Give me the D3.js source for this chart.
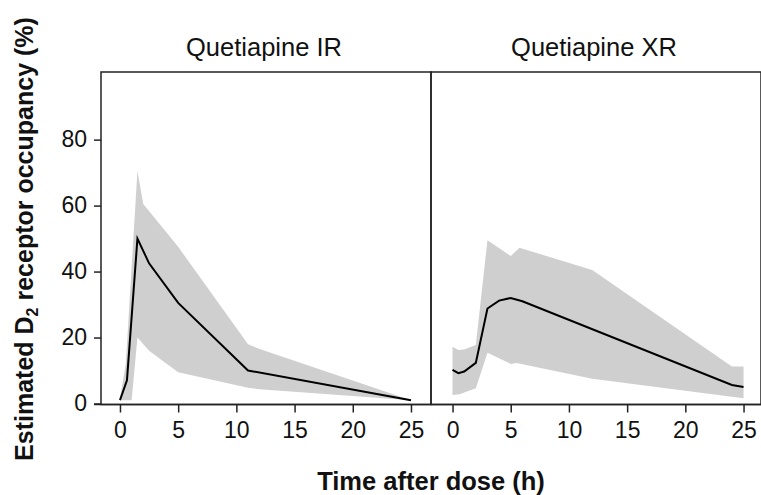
<!DOCTYPE html>
<html>
<head>
<meta charset="utf-8">
<script src="https://cdn.jsdelivr.net/npm/d3@7"></script>
<style>
  body { margin: 0; background: #fff; }
  svg { display: block; font-family: "Liberation Sans", Arial, sans-serif; }
</style>
</head>
<body>
<script>
// panels
var panelNames = ["Quetiapine IR", "Quetiapine XR"];
var xTicks = [0, 5, 10, 15, 20, 25];
var yTicks = [0, 20, 40, 60, 80];

// Quetiapine IR
var irMeanTime = [0, 0.6, 1.5, 2.5, 5, 11, 25];
var irMean     = [1, 7, 50, 42.5, 30.5, 10, 1];
var irUpperTime = [0, 0.5, 1.5, 2, 5, 11, 12, 25];
var irUpper     = [1.5, 12, 70.5, 60.5, 47.5, 18, 16.5, 1];
var irLowerTime = [0, 1, 1.5, 2.5, 5, 11, 12, 25];
var irLower     = [1, 1, 20, 16, 9.5, 4.8, 4.3, 1];

// Quetiapine XR
var xrMeanTime = [0, 0.5, 1, 2, 3, 4, 5, 6, 24, 25];
var xrMean     = [10.2, 9.2, 9.7, 12.3, 28.8, 31.2, 32, 31, 5.6, 5];
var xrUpperTime = [0, 0.5, 1, 2, 3, 5, 5.75, 12, 24, 25];
var xrUpper     = [17.2, 16.2, 16.4, 17.7, 49.5, 44.7, 47.2, 40.5, 11.2, 11.2];
var xrLowerTime = [0, 0.6, 2, 3, 5, 5.5, 12, 25];
var xrLower     = [2.6, 2.8, 4.6, 15.4, 12, 12.3, 7.5, 1.6];

var width = 761, height = 495;
var yTop = 72, yBottom = 404.5;
var panels = [
  {name: panelNames[0], x0: 101, x1: 431, dom: [-1.63, 26.72],
   mt: irMeanTime, m: irMean, ut: irUpperTime, u: irUpper, lt: irLowerTime, l: irLower},
  {name: panelNames[1], x0: 431, x1: 761, dom: [-1.85, 26.5],
   mt: xrMeanTime, m: xrMean, ut: xrUpperTime, u: xrUpper, lt: xrLowerTime, l: xrLower}
];

var svg = d3.select("body").append("svg")
  .attr("width", width)
  .attr("height", height);

var y = d3.scaleLinear().domain([0, 100.5]).range([403.5, yTop]);

panels.forEach(function(p, i) {
  var x = d3.scaleLinear().domain(p.dom).range([p.x0, p.x1]);

  var upperPts = p.ut.map(function(t, j) { return [t, p.u[j]]; });
  var lowerPts = p.lt.map(function(t, j) { return [t, p.l[j]]; }).reverse();
  var band = upperPts.concat(lowerPts);

  svg.append("path")
    .attr("d", d3.line().x(d => x(d[0])).y(d => y(d[1]))(band) + "Z")
    .attr("fill", "#cfcfcf")
    .attr("stroke", "none");

  svg.append("path")
    .datum(p.mt.map(function(t, j) { return [t, p.m[j]]; }))
    .attr("d", d3.line().x(d => x(d[0])).y(d => y(d[1])))
    .attr("fill", "none")
    .attr("stroke", "#000")
    .attr("stroke-width", 2);

  // x axis
  var xa = svg.append("g")
    .attr("transform", `translate(0,${yBottom})`)
    .call(d3.axisBottom(x).tickValues(xTicks).tickSize(8).tickPadding(9));
  xa.select(".domain").remove();
  xa.selectAll("line").attr("stroke", "#222").attr("stroke-width", 1.5);
  xa.selectAll("text").attr("font-size", 23).attr("fill", "#111")
    .attr("font-family", "Liberation Sans, Arial, sans-serif");

  // panel title
  svg.append("text")
    .attr("x", (p.x0 + p.x1) / 2 - 2)
    .attr("y", 56)
    .attr("text-anchor", "middle")
    .attr("font-size", 25.5)
    .attr("fill", "#111")
    .text(p.name);

  // box
  svg.append("rect")
    .attr("x", p.x0)
    .attr("y", yTop)
    .attr("width", p.x1 - p.x0)
    .attr("height", yBottom - yTop)
    .attr("fill", "none")
    .attr("stroke", "#222")
    .attr("stroke-width", 1.5);
});

// y axis
var ya = svg.append("g")
  .attr("transform", "translate(101,0)")
  .call(d3.axisLeft(y).tickValues(yTicks).tickSize(7).tickPadding(7));
ya.select(".domain").remove();
ya.selectAll("line").attr("stroke", "#222").attr("stroke-width", 1.5);
ya.selectAll("text").attr("font-size", 23).attr("fill", "#111")
  .attr("font-family", "Liberation Sans, Arial, sans-serif");

// baseline extends past y ticks
svg.append("line")
  .attr("x1", 94).attr("x2", width)
  .attr("y1", yBottom).attr("y2", yBottom)
  .attr("stroke", "#222").attr("stroke-width", 1.5);

// axis titles
svg.append("text")
  .attr("x", 431)
  .attr("y", 490)
  .attr("text-anchor", "middle")
  .attr("font-size", 25.5)
  .attr("font-weight", "bold")
  .attr("fill", "#111")
  .text("Time after dose (h)");

var yl = svg.append("text")
  .attr("transform", "translate(33,239) rotate(-90)")
  .attr("text-anchor", "middle")
  .attr("font-size", 25)
  .attr("font-weight", "bold")
  .attr("fill", "#111");
yl.append("tspan").text("Estimated D");
yl.append("tspan").attr("font-size", 16).attr("dy", 5).text("2");
yl.append("tspan").attr("dy", -5).text(" receptor occupancy (%)");
</script>
</body>
</html>
